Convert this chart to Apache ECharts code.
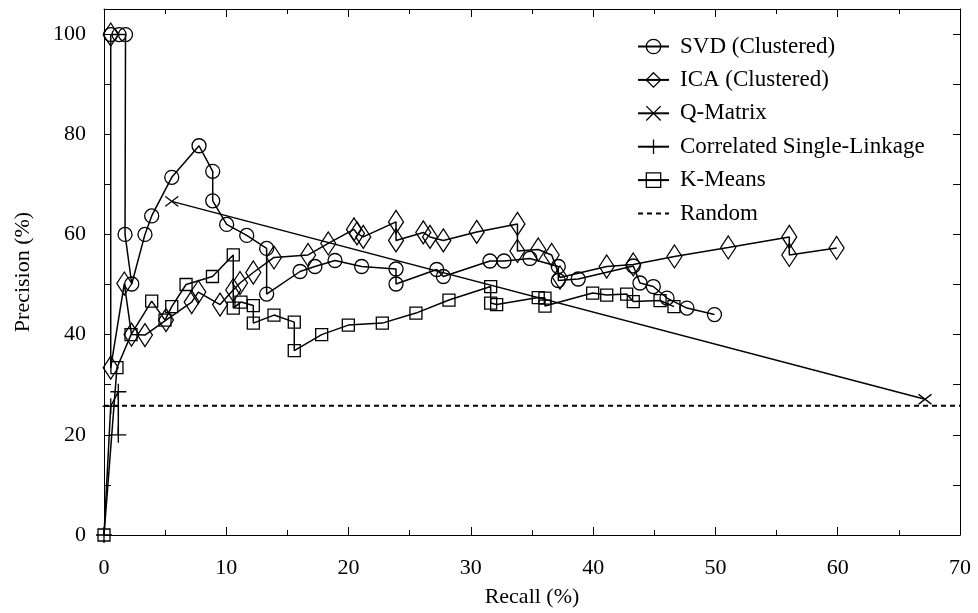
<!DOCTYPE html>
<html><head><meta charset="utf-8">
<script src="https://cdn.jsdelivr.net/npm/echarts@6/dist/echarts.min.js"></script>
<style>html,body{margin:0;padding:0;background:#fff}#c{width:978px;height:613px}</style>
</head><body><div id="c"></div>
<script>
// ---- data (Recall %, Precision %) ----
const svdRecall    = [0.55,1.23,1.76,1.72,2.27,3.35,3.90,5.54,7.77,8.89,8.89,10.03,11.67,13.30,13.30,16.03,17.25,18.89,21.07,23.88,23.88,27.21,27.75,31.56,32.71,34.83,37.15,37.15,38.78,43.28,43.83,44.92,46.04,47.67,49.92];
const svdPrecision = [99.9,99.9,99.9,60.0,50.1,60.0,63.7,71.4,77.7,72.6,66.7,62.0,59.8,57.2,48.1,52.6,53.6,54.8,53.6,53.1,50.1,53.0,51.6,54.7,54.7,55.2,53.6,50.8,51.1,53.7,50.3,49.6,47.3,45.3,44.0];

const icaRecall    = [0.55,0.55,1.66,2.25,3.35,5.07,7.17,7.71,9.49,10.57,11.12,12.21,13.90,16.69,18.34,20.44,20.69,21.20,23.88,23.88,26.11,26.66,27.75,30.48,33.81,33.81,35.51,36.61,37.29,41.11,43.28,46.65,51.05,56.04,56.04,59.91];
const icaPrecision = [99.9,33.4,50.2,40.0,39.9,42.9,46.5,48.5,46.0,48.9,50.3,52.4,55.4,55.9,58.2,61.0,60.2,59.5,62.5,58.8,60.4,59.5,58.8,60.5,62.1,56.7,57.0,55.9,51.4,53.6,54.0,55.6,57.4,59.5,55.9,57.3];

const qmRecall     = [5.54,67.14];
const qmPrecision  = [66.6,27.1];

const cslRecall    = [0,0.55,1.17,1.17];
const cslPrecision = [0,25.7,28.6,20.0];

const kmRecall     = [0,1.06,2.21,3.90,4.99,5.54,6.71,8.87,10.57,10.57,11.20,12.21,12.21,13.90,15.56,15.56,17.80,19.98,22.76,25.51,28.21,31.62,31.62,32.11,35.51,36.06,36.06,39.96,41.11,42.74,43.28,45.47,46.61];
const kmPrecision  = [0,33.4,40.0,46.7,42.9,45.6,50.0,51.6,55.9,45.3,46.5,45.8,42.3,43.9,42.5,36.8,40.0,41.9,42.3,44.3,46.9,49.6,46.3,46.0,47.4,47.3,45.7,48.3,47.9,48.1,46.6,46.8,45.6];

const randomRecall    = [0,70];
const randomPrecision = [25.8,25.8];

const seriesNames = ['SVD (Clustered)','ICA (Clustered)','Q-Matrix','Correlated Single-Linkage','K-Means','Random'];
const xTicks = {min:0, max:70, interval:10};
const yTicks = {min:0, max:105, interval:10, labelEvery:20};

// ---- chart ----
const FONT = 'Liberation Serif';
function pairs(xs, ys){ return xs.map((x,i)=>[x, ys[i]]); }
function mk(name, xs, ys, symbol, size){
  return {
    name, type:'line', data:pairs(xs,ys), symbol, symbolSize:size, showAllSymbol:true,
    lineStyle:{color:'#000', width:1.5},
    itemStyle:{color:'rgba(0,0,0,0)', borderColor:'#000', borderWidth:1.3},
    emphasis:{disabled:true}, silent:true, animation:false, clip:false
  };
}
const series = [
  mk(seriesNames[0], svdRecall, svdPrecision, 'circle', 14),
  mk(seriesNames[1], icaRecall, icaPrecision, 'diamond', [15,23]),
  mk(seriesNames[2], qmRecall, qmPrecision, 'path://M0 0L13 10M13 0L0 10', [13,10]),
  mk(seriesNames[3], cslRecall, cslPrecision, 'path://M8 0L8 16M0 8L16 8', 16),
  mk(seriesNames[4], kmRecall, kmPrecision, 'rect', 12),
  {name:seriesNames[5], type:'line', data:pairs(randomRecall, randomPrecision),
   symbol:'rect', symbolSize:1, showSymbol:false,
   lineStyle:{color:'#000', width:2, type:[5,4]},
   itemStyle:{color:'rgba(0,0,0,0)', borderColor:'rgba(0,0,0,0)', borderWidth:0},
   emphasis:{disabled:true}, silent:true, animation:false}
];

const legendData = seriesNames.map(n => n === 'Random'
  ? {name:n, itemStyle:{color:'rgba(0,0,0,0)', borderColor:'rgba(0,0,0,0)', borderWidth:0}}
  : {name:n});

const tickCommon = {
  axisLine:{show:true, onZero:false, lineStyle:{color:'#000', width:1}},
  splitLine:{show:false},
};
const chart = echarts.init(document.getElementById('c'), null, {renderer:'canvas'});
chart.setOption({
  animation:false,
  backgroundColor:'#fff',
  grid:{left:104, right:18, top:9, bottom:75, containLabel:false},
  xAxis:[
    Object.assign({type:'value', position:'bottom', min:xTicks.min, max:xTicks.max, interval:xTicks.interval,
      axisTick:{show:true, inside:true, length:8, lineStyle:{color:'#000'}},
      minorTick:{show:true, splitNumber:2, length:5, lineStyle:{color:'#000'}},
      axisLabel:{color:'#000', fontFamily:FONT, fontSize:22, margin:22},
      name:'Recall (%)', nameLocation:'middle', nameGap:51,
      nameTextStyle:{color:'#000', fontFamily:FONT, fontSize:22}}, tickCommon),
    Object.assign({type:'value', position:'top', min:xTicks.min, max:xTicks.max, interval:xTicks.interval,
      axisTick:{show:true, inside:true, length:8, lineStyle:{color:'#000'}},
      minorTick:{show:true, splitNumber:2, length:5, lineStyle:{color:'#000'}},
      axisLabel:{show:false}}, tickCommon)
  ],
  yAxis:[
    Object.assign({type:'value', position:'left', min:yTicks.min, max:yTicks.max, interval:yTicks.interval,
      axisTick:{show:true, inside:true, length:7, lineStyle:{color:'#000'}},
      axisLabel:{color:'#000', fontFamily:FONT, fontSize:22, margin:18, showMaxLabel:false,
        formatter:v => (v % yTicks.labelEvery === 0 && v <= 100) ? String(v) : ''},
      name:'Precision (%)', nameLocation:'middle', nameGap:70,
      nameTextStyle:{color:'#000', fontFamily:FONT, fontSize:22}}, tickCommon),
    Object.assign({type:'value', position:'right', min:yTicks.min, max:yTicks.max, interval:yTicks.interval,
      axisTick:{show:true, inside:true, length:7, lineStyle:{color:'#000'}},
      axisLabel:{show:false}}, tickCommon)
  ],
  legend:{
    orient:'vertical', left:637, top:35, padding:0, itemWidth:31, itemHeight:18, itemGap:10.4,
    selectedMode:false,
    textStyle:{fontFamily:FONT, fontSize:23, color:'#000', lineHeight:22, padding:[0,0,0,6]},
    itemStyle:{color:'rgba(0,0,0,0)', borderColor:'#000', borderWidth:1.3},
    lineStyle:{color:'#000'},
    data:legendData
  },
  series
});
</script>
</body></html>
